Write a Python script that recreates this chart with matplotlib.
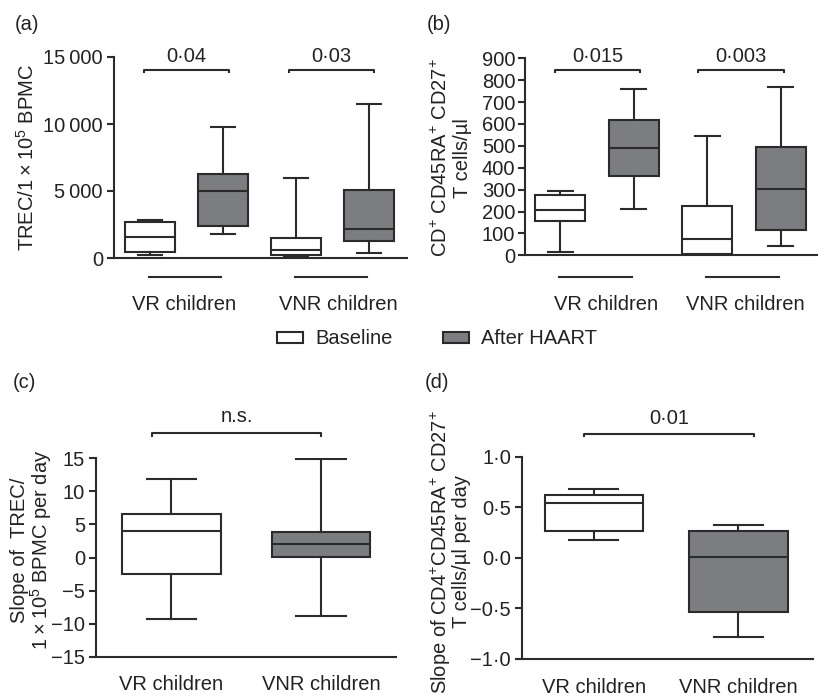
import matplotlib
matplotlib.use("Agg")
import matplotlib.pyplot as plt
from matplotlib.patches import Patch
from matplotlib.transforms import blended_transform_factory

plt.rcParams['font.family'] = ['Liberation Sans', 'DejaVu Sans']
plt.rcParams['mathtext.fontset'] = 'custom'
plt.rcParams['mathtext.rm'] = 'Liberation Sans'
plt.rcParams['mathtext.it'] = 'Liberation Sans:italic'
plt.rcParams['mathtext.bf'] = 'Liberation Sans:bold'
plt.rcParams['font.size'] = 14.5
plt.rcParams['text.color'] = '#222222'
plt.rcParams['ytick.labelcolor'] = '#222222'
plt.rcParams['xtick.labelcolor'] = '#222222'

LINE = '#2b2b2b'
DARK = '#7b7d80'
LW = 1.5

groups = ['VR children', 'VNR children']
legend_labels = ['Baseline', 'After HAART']

# (a) TREC per 1e5 BPMC: VR baseline, VR after, VNR baseline, VNR after
trec_whislo = [250, 1800, 100, 350]
trec_q1 = [450, 2400, 200, 1250]
trec_med = [1600, 5000, 600, 2150]
trec_q3 = [2650, 6300, 1500, 5050]
trec_whishi = [2850, 9800, 5950, 11500]
trec_p = ['0·04', '0·03']
trec_ticks = [0, 5000, 10000, 15000]
trec_ticklabels = ['0', '5\u2009000', '10\u2009000', '15\u2009000']

# (b) CD4+ CD45RA+ CD27+ T cells/ul
naive_whislo = [15, 211, 2, 42]
naive_q1 = [157, 362, 6, 116]
naive_med = [205, 490, 73, 305]
naive_q3 = [276, 616, 226, 496]
naive_whishi = [296, 758, 546, 771]
naive_p = ['0·015', '0·003']
naive_ticks = [0, 100, 200, 300, 400, 500, 600, 700, 800, 900]

# (c) slope of TREC per day: VR, VNR
trec_slope_whislo = [-9.3, -8.8]
trec_slope_q1 = [-2.5, 0.1]
trec_slope_med = [4.0, 2.0]
trec_slope_q3 = [6.6, 3.85]
trec_slope_whishi = [11.8, 14.9]
trec_slope_p = 'n.s.'
trec_slope_ticks = [-15, -10, -5, 0, 5, 10, 15]
trec_slope_ticklabels = ['\u221215', '\u221210', '\u22125', '0', '5', '10', '15']

# (d) slope of naive T cells per day: VR, VNR
naive_slope_whislo = [0.18, -0.78]
naive_slope_q1 = [0.27, -0.54]
naive_slope_med = [0.545, 0.01]
naive_slope_q3 = [0.62, 0.27]
naive_slope_whishi = [0.68, 0.32]
naive_slope_p = '0·01'
naive_slope_ticks = [-1.0, -0.5, 0.0, 0.5, 1.0]
naive_slope_ticklabels = ['\u22121·0', '\u22120·5', '0·0', '0·5', '1·0']

W, H = 819, 700
fig = plt.figure(figsize=(W / 100, H / 100), dpi=100)


def px_axes(left, top, right, bottom):
    return fig.add_axes([left / W, 1 - bottom / H, (right - left) / W, (bottom - top) / H])


def style_axes(ax, ticks, ticklabels, ylim, xlim, pad=3):
    for s in ['top', 'right']:
        ax.spines[s].set_visible(False)
    for s in ['left', 'bottom']:
        ax.spines[s].set_linewidth(LW)
        ax.spines[s].set_color(LINE)
    ax.set_ylim(*ylim)
    ax.set_xlim(*xlim)
    ax.set_yticks(ticks)
    ax.set_yticklabels(ticklabels)
    ax.tick_params(axis='y', direction='out', length=5, width=LW, color=LINE, pad=pad)
    ax.tick_params(axis='x', length=0)


def draw_boxes(ax, positions, whislo, q1, med, q3, whishi, fills, width):
    stats = [dict(whislo=a, q1=b, med=c, q3=d, whishi=e, fliers=[])
             for a, b, c, d, e in zip(whislo, q1, med, q3, whishi)]
    bp = ax.bxp(stats, positions=positions, widths=width, capwidths=width / 2,
                patch_artist=True, showfliers=False,
                boxprops=dict(edgecolor=LINE, linewidth=LW),
                whiskerprops=dict(color=LINE, linewidth=LW),
                capprops=dict(color=LINE, linewidth=LW),
                medianprops=dict(color=LINE, linewidth=LW))
    for patch, fc in zip(bp['boxes'], fills):
        patch.set_facecolor(fc)
    return bp


def bracket(ax, x0, x1, y, label, text_y, drop=0.012):
    tr = blended_transform_factory(ax.transData, ax.transAxes)
    ax.plot([x0, x0, x1, x1], [y - drop, y, y, y - drop], color=LINE, lw=LW,
            transform=tr, clip_on=False)
    ax.text((x0 + x1) / 2, text_y, label, transform=tr, ha='center', va='baseline',
            clip_on=False)


def group_labels(ax, line_y, text_y, offsets):
    tr = blended_transform_factory(ax.transData, ax.transAxes)
    for i, (g, off) in enumerate(zip(groups, offsets)):
        c = 1 + 2 * i
        ax.plot([c - 0.02, c + 0.97], [line_y, line_y], color=LINE, lw=LW,
                transform=tr, clip_on=False)
        ax.text(c + off, text_y, g, transform=tr, ha='center', va='baseline')


fills4 = ['white', DARK, 'white', DARK]
pos4 = [1, 2, 3, 4]

# (a)
ax_a = px_axes(114, 57, 407, 258)
draw_boxes(ax_a, pos4, trec_whislo, trec_q1, trec_med, trec_q3, trec_whishi, fills4, 0.68)
style_axes(ax_a, trec_ticks, trec_ticklabels, (0, 15000), (0.507, 4.52))
ax_a.set_xticks([])
bracket(ax_a, 0.92, 2.08, 0.935, trec_p[0], 0.977)
bracket(ax_a, 2.90, 4.07, 0.935, trec_p[1], 0.977)
group_labels(ax_a, -0.095, -0.259, [0.46, 0.58])
fig.text(27 / W, 1 - 157.5 / H, 'TREC/1\u2009\u00d7\u200910$^{5}$ BPMC', rotation=90,
         ha='center', va='center')

# (b)
ax_b = px_axes(525, 58.3, 816.7, 255.3)
draw_boxes(ax_b, pos4, naive_whislo, naive_q1, naive_med, naive_q3, naive_whishi, fills4, 0.68)
style_axes(ax_b, naive_ticks, [str(t) for t in naive_ticks], (0, 900), (0.518, 4.49), pad=2)
ax_b.set_xticks([])
bracket(ax_b, 0.93, 2.08, 0.941, naive_p[0], 0.983)
bracket(ax_b, 2.87, 4.04, 0.941, naive_p[1], 0.983)
group_labels(ax_b, -0.109, -0.278, [0.62, 0.52])
fig.text(451.5 / W, 1 - 158 / H, 'CD$^{+}$ CD45RA$^{+}$ CD27$^{+}$\nT cells/\u00b5l',
         rotation=90, ha='center', va='center', multialignment='center', linespacing=1.1)

# legend between the rows
handles = [Patch(facecolor='white', edgecolor=LINE, linewidth=LW),
           Patch(facecolor=DARK, edgecolor=LINE, linewidth=LW)]
fig.legend(handles, legend_labels, ncol=2, loc='center left',
           bbox_to_anchor=(277 / W, 1 - 339 / H), frameon=False, borderpad=0,
           borderaxespad=0, handlelength=1.3, handleheight=0.5, handletextpad=0.6,
           columnspacing=2.5)

# (c)
ax_c = px_axes(96, 458.3, 395.7, 656.7)
draw_boxes(ax_c, [1, 2], trec_slope_whislo, trec_slope_q1, trec_slope_med, trec_slope_q3,
           trec_slope_whishi, ['white', DARK], 0.66)
style_axes(ax_c, trec_slope_ticks, trec_slope_ticklabels, (-15, 15), (0.495, 2.5))
ax_c.set_xticks([1, 2])
ax_c.set_xticklabels(groups)
ax_c.tick_params(axis='x', pad=13)
bracket(ax_c, 0.87, 2.0, 1.126, trec_slope_p, 1.184)
fig.text(31.7 / W, 1 - 550 / H, 'Slope of  TREC/\n1\u2009\u00d7\u200910$^{5}$ BPMC per day',
         rotation=90, ha='center', va='center', multialignment='center', linespacing=0.95)

# (d)
ax_d = px_axes(522, 456.7, 813, 659)
draw_boxes(ax_d, [1, 2], naive_slope_whislo, naive_slope_q1, naive_slope_med, naive_slope_q3,
           naive_slope_whishi, ['white', DARK], 0.68)
style_axes(ax_d, naive_slope_ticks, naive_slope_ticklabels, (-1.0, 1.0), (0.504, 2.515))
ax_d.set_xticks([1, 2])
ax_d.set_xticklabels(groups)
ax_d.tick_params(axis='x', pad=14)
bracket(ax_d, 0.93, 2.11, 1.112, naive_slope_p, 1.162)
fig.text(450 / W, 1 - 552 / H, 'Slope of CD4$^{+}$CD45RA$^{+}$ CD27$^{+}$\nT cells/\u00b5l per day',
         rotation=90, ha='center', va='center', multialignment='center', linespacing=0.95)

# panel letters
for lab, x, y in [('(a)', 15, 24), ('(b)', 427, 24), ('(c)', 13, 382), ('(d)', 425, 383)]:
    fig.text(x / W, 1 - y / H, lab, ha='left', va='center')

fig.savefig('out.png', dpi=100)
